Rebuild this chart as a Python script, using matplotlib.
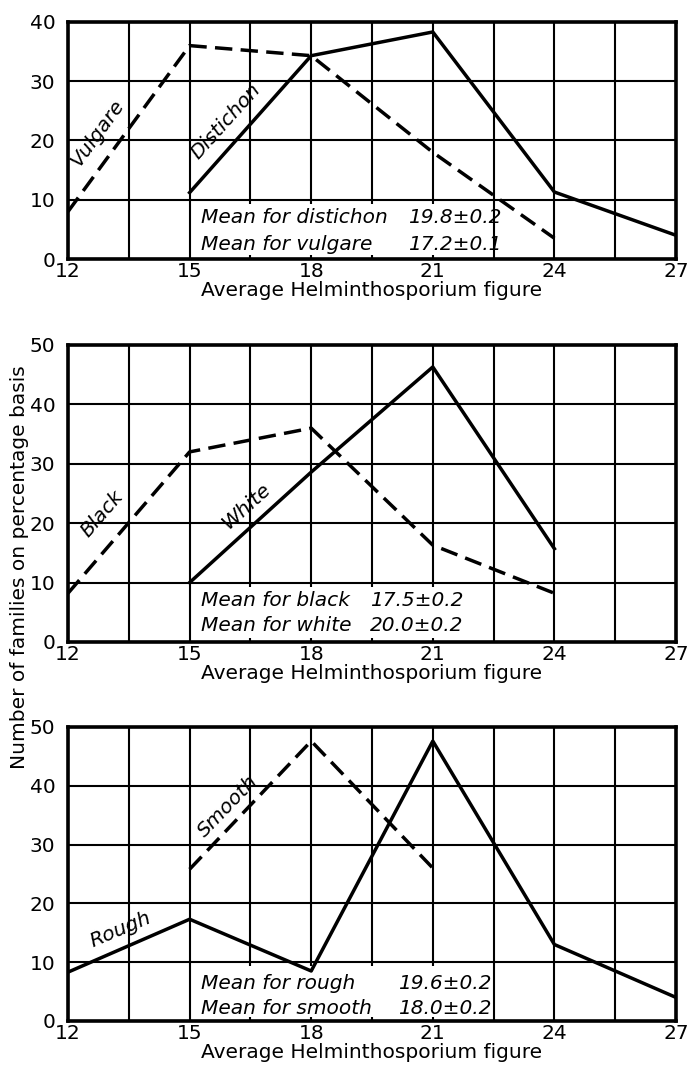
import numpy as np
import matplotlib.pyplot as plt
from matplotlib.patches import Rectangle

# Helminthosporium figure classes
x_all = [12, 15, 18, 21, 24, 27]

# Panel 1: distichon vs vulgare
vulgare_x = [12, 15, 18, 21, 24]
vulgare_y = [8, 36, 34.3, 18, 3.5]
distichon_x = [15, 18, 21, 24, 27]
distichon_y = [11.2, 34.3, 38.3, 11.3, 4]

# Panel 2: black vs white
black_x = [12, 15, 18, 21, 24]
black_y = [8.2, 32, 36, 16.3, 8.2]
white_x = [15, 18, 21, 24]
white_y = [10, 28.6, 46.3, 15.7]

# Panel 3: rough vs smooth
smooth_x = [15, 18, 21]
smooth_y = [25.8, 47.6, 26]
rough_x = [12, 15, 18, 21, 24, 27]
rough_y = [8.3, 17.3, 8.5, 47.6, 13, 4]

means = [
    (["Mean for distichon", "Mean for vulgare"], ["19.8\u00b10.2", "17.2\u00b10.1"]),
    (["Mean for black", "Mean for white"], ["17.5\u00b10.2", "20.0\u00b10.2"]),
    (["Mean for rough", "Mean for smooth"], ["19.6\u00b10.2", "18.0\u00b10.2"]),
]

plt.rcParams['font.family'] = ['DejaVu Sans']
fig = plt.figure(figsize=(6.87, 10.73), dpi=100)

lw = 2.5
dash = (5, 2.4)
left, width = 0.099, 0.885


def setup(ax, ymax):
    ax.set_xlim(12, 27)
    ax.set_ylim(0, ymax)
    ax.set_xticks(x_all)
    ax.set_xticks(np.arange(12, 27.1, 1.5), minor=True)
    ax.set_yticks(np.arange(0, ymax + 1, 10))
    ax.grid(True, which='both', color='black', lw=1.5, zorder=1)
    ax.tick_params(which='both', length=0, labelsize=14.5)
    ax.tick_params(axis='x', pad=2)
    ax.tick_params(axis='y', pad=9)
    for s in ax.spines.values():
        s.set_linewidth(2.6)
        s.set_zorder(5)
    ax.set_xlabel('Average Helminthosporium figure', fontsize=14.5, labelpad=0)


def series_label(ax, x, y, txt, rot):
    ax.text(x, y, txt, rotation=rot, rotation_mode='anchor', style='italic',
            fontsize=14.5, ha='center', va='center', zorder=4)


def mean_box(ax, k, x1, xv, ys):
    ax.add_patch(Rectangle((15.12, 0.7), x1 - 15.12, 8.6, facecolor='white',
                           edgecolor='none', zorder=2))
    for n, v, y in zip(means[k][0], means[k][1], ys):
        ax.text(15.28, y, n, style='italic', fontsize=14.5, va='center', zorder=3)
        ax.text(xv, y, v, style='italic', fontsize=14.5, va='center', zorder=3)


# Panel 1
ax1 = fig.add_axes([left, 0.7586, width, 0.221])
setup(ax1, 40)
ax1.plot(vulgare_x, vulgare_y, color='black', lw=lw, ls=(0, dash), zorder=4)
ax1.plot(distichon_x, distichon_y, color='black', lw=lw, zorder=4)
series_label(ax1, 12.72, 21.3, 'Vulgare', 54)
series_label(ax1, 15.9, 23.2, 'Distichon', 48)
mean_box(ax1, 0, 22.4, 20.38, [7.0, 2.4])

# Panel 2
ax2 = fig.add_axes([left, 0.4017, width, 0.2768])
setup(ax2, 50)
ax2.plot(black_x, black_y, color='black', lw=lw, ls=(0, dash), zorder=4)
ax2.plot(white_x, white_y, color='black', lw=lw, zorder=4)
series_label(ax2, 12.85, 21.5, 'Black', 49)
series_label(ax2, 16.4, 22.8, 'White', 42)
mean_box(ax2, 1, 22.1, 19.45, [6.9, 2.8])

# Panel 3
ax3 = fig.add_axes([left, 0.0485, width, 0.274])
setup(ax3, 50)
ax3.plot(smooth_x, smooth_y, color='black', lw=lw, ls=(0, dash), zorder=4)
ax3.plot(rough_x, rough_y, color='black', lw=lw, zorder=4)
series_label(ax3, 15.95, 36.6, 'Smooth', 46)
series_label(ax3, 13.3, 15.6, 'Rough', 23)
mean_box(ax3, 2, 22.4, 20.14, [6.4, 2.1])

fig.text(0.028, 0.471, 'Number of families on percentage basis', rotation=90,
         fontsize=14.5, ha='center', va='center')

fig.savefig('out.png', dpi=100)
